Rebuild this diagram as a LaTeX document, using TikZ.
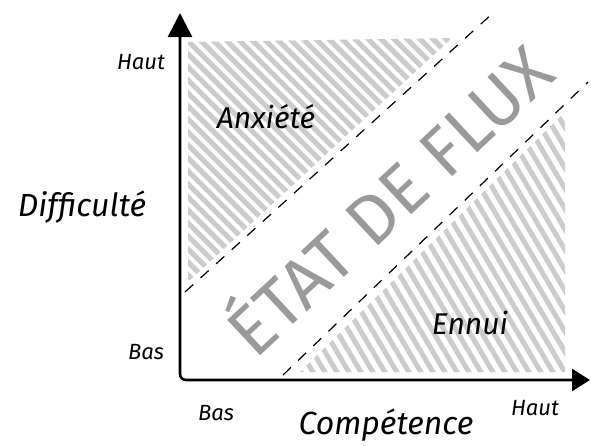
\documentclass[tikz,border=0pt]{standalone}
\usepackage{fontspec}
\setmainfont{Fira Sans}
\usetikzlibrary{positioning,arrows.meta,calc}
\definecolor{hatchgray}{HTML}{CCCCCC}
\definecolor{fluxgray}{HTML}{9A9A9A}

\begin{document}
\begin{tikzpicture}[x=1pt, y=-1pt,
    hatch/.style={hatchgray, line width=5pt, line cap=round},
    zone/.style={black, line width=1.2pt, dash pattern=on 11pt off 10pt},
    lbl/.style={font=\itshape\fontsize{22}{22}\selectfont},
    lblbig/.style={font=\itshape\fontsize{32}{32}\selectfont},
    lblmid/.style={font=\itshape\fontsize{30}{30}\selectfont}]
    \useasboundingbox (0,0) rectangle (591,445);
    % hatching: Anxiete
    \begin{scope}
      \clip (188,42) -- (452,38) -- (188,282) -- cycle;
      \foreach \c in {-100,-87,...,430}
        \draw[hatch] ({\c+30},30) -- ({\c+300},300);
    \end{scope}
    % hatching: Ennui
    \begin{scope}
      \clip (300,372) -- (565,372) -- (565,112) -- cycle;
      \foreach \c in {70,82,...,510}
        \draw[hatch] ({\c+100/1.7},100) -- ({\c+390/1.7},390);
    \end{scope}
    % flow channel limits
    \coordinate (a1) at (185,292);
    \coordinate (a2) at (493,13);
    \coordinate (b1) at (283,375);
    \coordinate (b2) at (588,82);
    \draw[zone] (a1) -- (a2);
    \draw[zone] (b1) -- (b2);
    % axes
    \coordinate (O) at (180,380);
    \coordinate (ytip) at (180,13);
    \coordinate (xtip) at (590,380);
    \draw[line width=2.6pt, rounded corners=6pt,
      {Triangle[length=24pt,width=24pt]}-{Triangle[length=18pt,width=22pt]}]
      (ytip) -- (O) -- (xtip);
    \node[rotate=43, fluxgray, font=\fontsize{70}{70}\selectfont] (flux) at (385,196) {ÉTAT DE FLUX};
    \node[lblmid] (anx) at (266,117) {Anxiété};
    \node[lblmid] (ennui) at (470,323) {Ennui};
    \node[lblbig] (diff) at (82,207) {Difficulté};
    \node[lblbig] (comp) at (386,425) {Compétence};
    \node[lbl] (hauty) at (141,62) {Haut};
    \node[lbl] (basy) at (146,352) {Bas};
    \node[lbl] (basx) at (216,413) {Bas};
    \node[lbl] (hautx) at (535,408) {Haut};
\end{tikzpicture}
\end{document}
